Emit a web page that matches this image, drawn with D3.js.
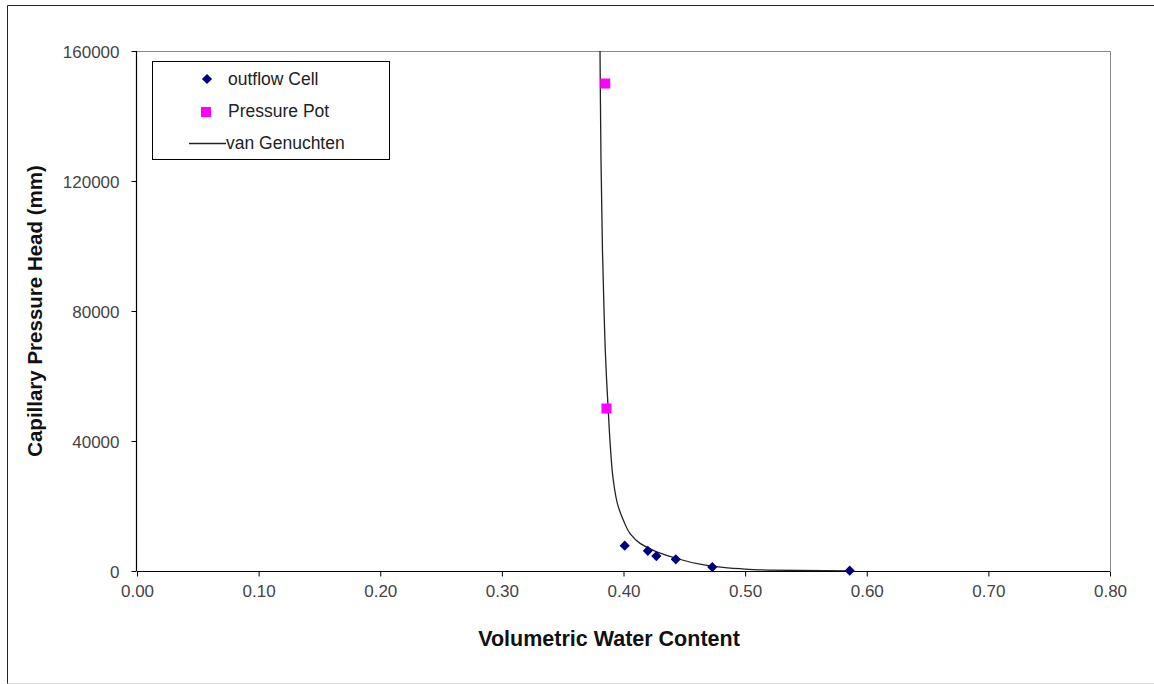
<!DOCTYPE html>
<html>
<head>
<meta charset="utf-8">
<script src="https://cdn.jsdelivr.net/npm/d3@7"></script>
<style>
  html, body { margin: 0; padding: 0; background: #fff; }
  svg { display: block; font-family: Arial, "Liberation Sans", sans-serif; }
</style>
</head>
<body>
<svg id="chart" width="1154" height="684"></svg>
<script>
// Measured soil-water retention data
const outflowTheta = [0.401, 0.420, 0.427, 0.443, 0.473, 0.586];
const outflowHead  = [7800, 6200, 4600, 3600, 1200, 100];

const potTheta = [0.385, 0.386];
const potHead  = [150000, 50000];

// Fitted van Genuchten retention curve
const vgTheta = [0.3807, 0.3815, 0.3827, 0.3840, 0.3850, 0.3861, 0.3873, 0.3892, 0.3916, 0.3957, 0.3998, 0.4053, 0.4136, 0.4273, 0.4437, 0.4629, 0.4821, 0.4958, 0.518, 0.545, 0.586];
const vgHead  = [160000, 126500, 98800, 80000, 68000, 58800, 50500, 38300, 28000, 19800, 15700, 11600, 8500, 5900, 3900, 2100, 1100, 700, 300, 150, 0];

const xTicks = [0, 0.1, 0.2, 0.3, 0.4, 0.5, 0.6, 0.7, 0.8];
const yTicks = [0, 40000, 80000, 120000, 160000];

const legendLabels = ["outflow Cell", "Pressure Pot", "van Genuchten"];

const svg = d3.select("#chart");
const plot = { left: 137, right: 1110, top: 51, bottom: 571 };

// outer frame
svg.append("line").attr("x1", 7.5).attr("y1", 5.5).attr("x2", 1154).attr("y2", 5.5).attr("stroke", "#222");
svg.append("line").attr("x1", 7.5).attr("y1", 5.5).attr("x2", 7.5).attr("y2", 684).attr("stroke", "#222");
svg.append("line").attr("x1", 7.5).attr("y1", 683.5).attr("x2", 1154).attr("y2", 683.5).attr("stroke", "#ddd");

const x = d3.scaleLinear().domain([0, 0.8]).range([plot.left, plot.right]);
const y = d3.scaleLinear().domain([0, 160000]).range([plot.bottom, plot.top]);

// plot area border (top and right)
svg.append("path")
  .attr("d", `M${plot.left},${plot.top + 0.5}H${plot.right + 0.5}V${plot.bottom}`)
  .attr("fill", "none").attr("stroke", "#888").attr("stroke-width", 1);

// axes
const xAxis = d3.axisBottom(x).tickValues(xTicks).tickFormat(d3.format(".2f")).tickSize(5).tickPadding(8);
const yAxis = d3.axisLeft(y).tickValues(yTicks).tickFormat(d3.format("d")).tickSize(5).tickPadding(12);

const gx = svg.append("g").attr("transform", `translate(0,${plot.bottom + 0.5})`).call(xAxis);
const gy = svg.append("g").attr("transform", `translate(${plot.left - 0.5},0)`).call(yAxis);
[gx, gy].forEach(g => {
  g.select(".domain").attr("stroke", "#000").attr("stroke-width", 1.2);
  g.selectAll(".tick line").attr("stroke", "#000");
  g.selectAll(".tick text").attr("fill", "#444").style("font-size", "17px").style("font-family", "Arial, 'Liberation Sans', sans-serif");
});
gx.select(".domain").attr("d", `M${plot.left},0H${plot.right}`);
gy.select(".domain").attr("d", `M0,${plot.bottom}V${plot.top}`);
gy.selectAll(".tick text").attr("dy", "0.36em");

// axis titles
svg.append("text")
  .attr("x", 609).attr("y", 646)
  .attr("text-anchor", "middle")
  .style("font-size", "21.5px").style("font-weight", "bold").attr("fill", "#111")
  .text("Volumetric Water Content");

svg.append("text")
  .attr("transform", `translate(42,${(plot.top + plot.bottom) / 2}) rotate(-90)`)
  .attr("text-anchor", "middle")
  .style("font-size", "20.5px").style("font-weight", "bold").attr("fill", "#111")
  .text("Capillary Pressure Head (mm)");

// clip to the plot region
svg.append("clipPath").attr("id", "plotClip")
  .append("rect").attr("x", plot.left).attr("y", plot.top)
  .attr("width", plot.right - plot.left).attr("height", plot.bottom - plot.top);

const vgData = vgTheta.map((t, i) => ({ t, h: vgHead[i] }));
const line = d3.line().x(d => x(d.t)).y(d => y(d.h)).curve(d3.curveMonotoneY);

svg.append("path")
  .datum(vgData)
  .attr("clip-path", "url(#plotClip)")
  .attr("d", line)
  .attr("fill", "none").attr("stroke", "#222").attr("stroke-width", 1.3);

// markers
const diamond = d3.symbol().type(d3.symbolSquare).size(52);
const square = d3.symbol().type(d3.symbolSquare).size(100);

svg.append("g").selectAll("path")
  .data(potTheta.map((t, i) => ({ t, h: potHead[i] })))
  .join("path")
  .attr("d", square)
  .attr("transform", d => `translate(${x(d.t)},${y(d.h)})`)
  .attr("fill", "#ff00ff");

svg.append("g").selectAll("path")
  .data(outflowTheta.map((t, i) => ({ t, h: outflowHead[i] })))
  .join("path")
  .attr("d", diamond)
  .attr("transform", d => `translate(${x(d.t)},${y(d.h)}) rotate(45)`)
  .attr("fill", "#000080");

// legend
const lg = svg.append("g");
lg.append("rect").attr("x", 152.5).attr("y", 61.5).attr("width", 237).attr("height", 98)
  .attr("fill", "#fff").attr("stroke", "#000").attr("stroke-width", 1);
lg.append("path").attr("d", diamond).attr("transform", "translate(207,79) rotate(45)").attr("fill", "#000080");
lg.append("path").attr("d", square).attr("transform", "translate(206,112)").attr("fill", "#ff00ff");
lg.append("line").attr("x1", 189).attr("x2", 226).attr("y1", 143.5).attr("y2", 143.5).attr("stroke", "#222").attr("stroke-width", 1.3);
const lgY = [85, 117, 149];
const lgX = [228, 228, 226];
lg.selectAll("text").data(legendLabels).join("text")
  .attr("x", (d, i) => lgX[i]).attr("y", (d, i) => lgY[i])
  .style("font-size", "17.5px").attr("fill", "#222")
  .text(d => d);
</script>
</body>
</html>
